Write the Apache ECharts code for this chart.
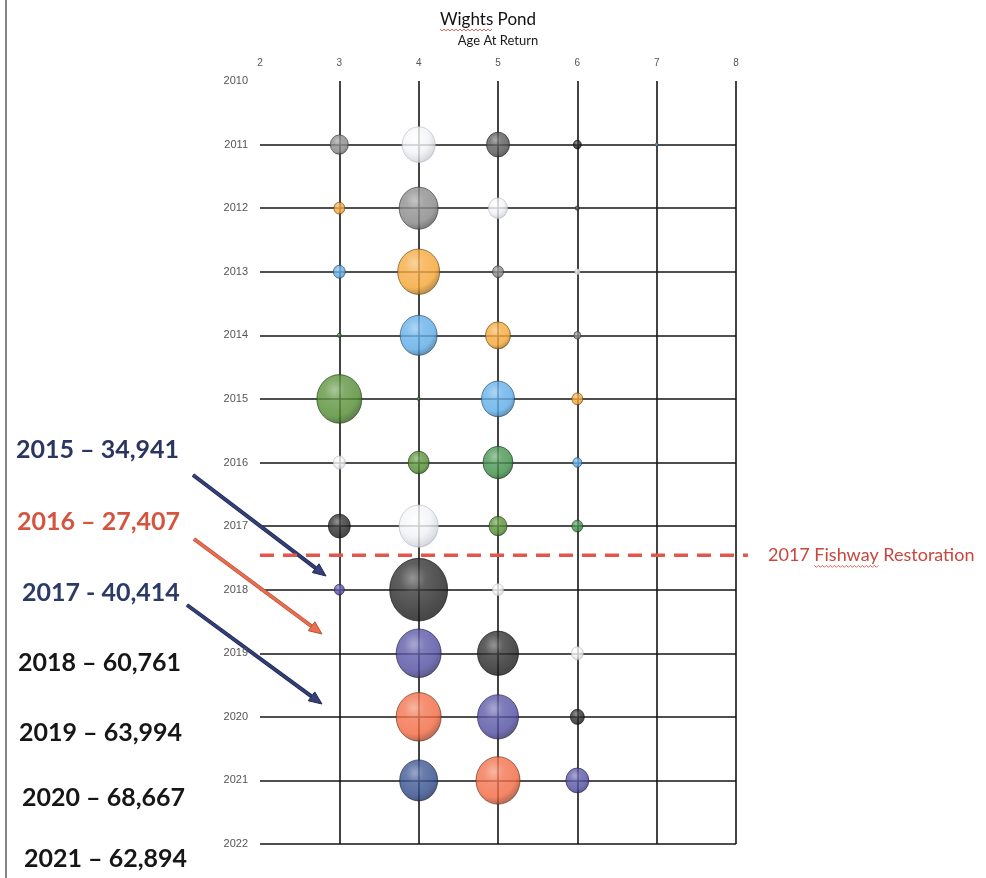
<!DOCTYPE html>
<html>
<head>
<meta charset="utf-8">
<script src="https://cdn.jsdelivr.net/npm/echarts@6/dist/echarts.min.js"></script>
<style>
  html, body { margin: 0; padding: 0; background: #ffffff; }
  #chart { width: 986px; height: 878px; }
</style>
</head>
<body>
<div id="chart"></div>
<script>
// Return years shown as rows (top to bottom)
const returnYears = [2011, 2012, 2013, 2014, 2015, 2016, 2017, 2018, 2019, 2020, 2021];
const ageTicks = [2, 3, 4, 5, 6, 7, 8];

// Relative bubble size for each return year, by age at return (null = no fish)
const age3 = [18, 11, 12, 4, 45, 12, 22, 10, null, null, null];
const age4 = [33, 39, 42, 37, 3, 21, 39, 58, 45, 45, 38];
const age5 = [23, 19, 11, 25, 33, 30, 18, 11, 41, 41, 44];
const age6 = [8, 4, 5, 7, 11, 9, 11, null, 12, 14, 23];
const age7 = [3, null, null, null, null, null, null, null, null, null, null];

// Each spawning cohort (return year minus age) keeps its own colour
const cohortYears  = [2004, 2005, 2006, 2007, 2008, 2009, 2010, 2011, 2012, 2013, 2014, 2015, 2016, 2017];
const cohortColors = ['#5aa9e6', '#1f1f1f', '#505050', '#f2f3f6', '#858585', '#f5a432', '#5aaae8',
                      '#3b8c45', '#4f8a2e', '#f2f3f6', '#222222', '#4f4ba0', '#f2673f', '#2f4a8a'];

// Annual totals listed down the left side
const totalLabels = ['2015 – 34,941', '2016 – 27,407', '2017 - 40,414', '2018 – 60,761',
                     '2019 – 63,994', '2020 – 68,667', '2021 – 62,894'];
const totalColors = ['#2b3561', '#d4553f', '#2b3a66', '#161616', '#161616', '#161616', '#161616'];

const restorationYear = 2017.46;
const restorationText = '2017 Fishway Restoration';

function hexToRgb(h) {
  h = h.replace('#', '');
  return [parseInt(h.substr(0, 2), 16), parseInt(h.substr(2, 2), 16), parseInt(h.substr(4, 2), 16)];
}
function mix(a, b, t) {
  const A = hexToRgb(a), B = hexToRgb(b);
  const c = A.map((v, i) => Math.round(v + (B[i] - v) * t));
  return 'rgb(' + c.join(',') + ')';
}
function isLight(h) { const c = hexToRgb(h); return c[0] + c[1] + c[2] > 650; }

// Shaded sphere fill
function sphere(base) {
  if (isLight(base)) {
    return {
      type: 'radial', x: 0.4, y: 0.34, r: 0.72,
      colorStops: [
        { offset: 0, color: '#ffffff' },
        { offset: 0.55, color: '#f1f2f5' },
        { offset: 0.85, color: '#d3d6dc' },
        { offset: 1, color: '#aab0ba' }
      ]
    };
  }
  return {
    type: 'radial', x: 0.4, y: 0.32, r: 0.75,
    colorStops: [
      { offset: 0, color: mix(base, '#ffffff', 0.4) },
      { offset: 0.3, color: mix(base, '#ffffff', 0.1) },
      { offset: 0.7, color: base },
      { offset: 1, color: mix(base, '#000000', 0.45) }
    ]
  };
}

function colorFor(year, age) {
  const i = cohortYears.indexOf(year - age);
  return i >= 0 ? cohortColors[i] : '#888888';
}

const byAge = { 3: age3, 4: age4, 5: age5, 6: age6, 7: age7 };
const bubbleData = [];
Object.keys(byAge).forEach(function (k) {
  const age = Number(k);
  byAge[k].forEach(function (size, i) {
    if (size == null) return;
    const year = returnYears[i];
    const base = colorFor(year, age);
    bubbleData.push({
      value: [age, year, size],
      itemStyle: {
        color: sphere(base),
        borderColor: isLight(base) ? '#b5b9c0' : mix(base, '#000000', 0.6),
        borderWidth: 0.8
      }
    });
  });
});
// draw larger bubbles first so small ones stay visible
bubbleData.sort(function (a, b) { return b.value[2] - a.value[2]; });

const chart = echarts.init(document.getElementById('chart'), null, { renderer: 'canvas' });

const gridLine = { color: '#151515', width: 1.6 };

chart.setOption({
  backgroundColor: '#ffffff',
  animation: false,
  grid: { left: 260, right: 250, top: 81, bottom: 34 },
  xAxis: {
    type: 'value', position: 'top', min: 2, max: 8, interval: 1,
    axisLine: { show: false }, axisTick: { show: false },
    axisLabel: { color: '#555', fontSize: 10, fontFamily: 'Liberation Sans', margin: 13 },
    splitLine: { show: true, showMinLine: false, lineStyle: gridLine },
    name: 'Age At Return', nameLocation: 'middle', nameGap: 34,
    nameTextStyle: { fontFamily: 'Lato', fontSize: 13, color: '#1a1a1a' }
  },
  yAxis: {
    type: 'value', inverse: true, min: 2010, max: 2022, interval: 1,
    axisLine: { show: false }, axisTick: { show: false },
    axisLabel: { color: '#555', fontSize: 11, fontFamily: 'Liberation Sans', margin: 12,
                 formatter: function (v) { return String(v); } },
    splitLine: { show: true, showMinLine: false, lineStyle: gridLine }
  },
  series: [{
    type: 'scatter',
    symbol: 'circle',
    data: bubbleData,
    symbolSize: function (v) { return [v[2], v[2] * 1.08]; },
    clip: false
  }]
});

// Annotation layer
const els = [];

// page edge rule on the left
els.push({ type: 'line', shape: { x1: 6, y1: 0, x2: 6, y2: 878 }, style: { stroke: '#333', lineWidth: 1.2 } });

// title and squiggle under "Wights"
const measure = document.createElement('canvas').getContext('2d');
const titleFont = '17px Lato';
measure.font = titleFont;
const titleW = measure.measureText('Wights Pond').width;
const wightsW = measure.measureText('Wights').width;
const titleX = 488, titleY = 20;
els.push({ type: 'text', x: titleX, y: titleY,
  style: { text: 'Wights Pond', font: titleFont, fill: '#111', align: 'center', verticalAlign: 'middle' } });

function squiggle(x0, x1, y, color) {
  const pts = [];
  let up = true;
  for (let x = x0; x <= x1; x += 2) { pts.push([x, y + (up ? -1 : 1)]); up = !up; }
  return { type: 'polyline', shape: { points: pts }, style: { stroke: color, lineWidth: 0.9, fill: null } };
}
els.push(squiggle(titleX - titleW / 2, titleX - titleW / 2 + wightsW, titleY + 10, '#d9534f'));

// totals down the left
const totalYs = [450, 522, 593, 663, 733, 798, 859];
const totalXs = [16, 17, 22, 18, 19, 22, 24];
totalLabels.forEach(function (t, i) {
  els.push({ type: 'text', x: totalXs[i], y: totalYs[i],
    style: { text: t, font: 'bold 25px Lato', fill: totalColors[i], align: 'left', verticalAlign: 'middle' } });
});

// arrows
function arrow(x1, y1, x2, y2, color, edge) {
  const ang = Math.atan2(y2 - y1, x2 - x1);
  const L = 13, W = 5.5;
  const bx = x2 - L * Math.cos(ang), by = y2 - L * Math.sin(ang);
  const px = -Math.sin(ang) * W, py = Math.cos(ang) * W;
  return [
    { type: 'line', shape: { x1: x1, y1: y1, x2: bx, y2: by }, style: { stroke: edge, lineWidth: 4 } },
    { type: 'line', shape: { x1: x1, y1: y1, x2: bx, y2: by }, style: { stroke: color, lineWidth: 2.2 } },
    { type: 'polygon', shape: { points: [[x2, y2], [bx + px, by + py], [bx - px, by - py]] },
      style: { fill: color, stroke: edge, lineWidth: 1 } }
  ];
}
arrow(193, 475, 326, 576, '#34407a', '#1f2750').forEach(e => els.push(e));
arrow(194, 539, 322, 634, '#ec6e4d', '#b8503a').forEach(e => els.push(e));
arrow(187, 605, 322, 704, '#34407a', '#1f2750').forEach(e => els.push(e));

// fishway restoration line
const pL = chart.convertToPixel({ gridIndex: 0 }, [2, restorationYear]);
const pR = chart.convertToPixel({ gridIndex: 0 }, [8.15, restorationYear]);
els.push({ type: 'line', shape: { x1: pL[0], y1: pL[1], x2: pR[0], y2: pR[1] },
  style: { stroke: '#e2564c', lineWidth: 3.5, lineDash: [14, 9] }, z: 10 });
measure.font = '18px Lato';
const fishX = 768;
els.push({ type: 'text', x: fishX, y: pL[1],
  style: { text: restorationText, font: '18px Lato', fill: '#c9463d', align: 'left', verticalAlign: 'middle' } });
const w2017 = measure.measureText('2017 ').width;
const wFish = measure.measureText('Fishway').width;
els.push(squiggle(fishX + w2017, fishX + w2017 + wFish, pL[1] + 11, '#d9534f'));

chart.setOption({ graphic: { elements: els } });
</script>
</body>
</html>
